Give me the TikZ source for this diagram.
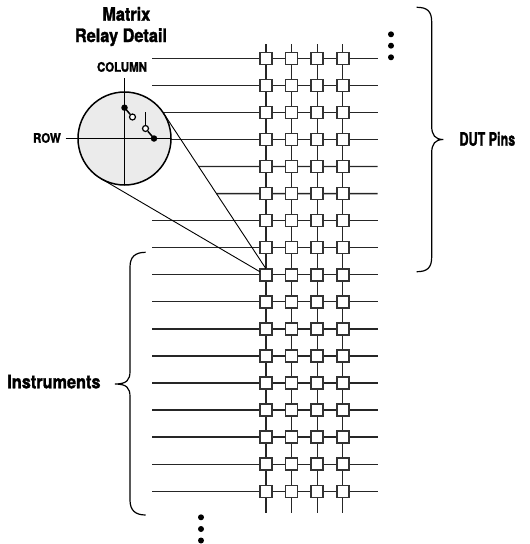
\documentclass[tikz,border=0pt]{standalone}
\usepackage{fontspec}
\setmainfont{TeX Gyre Heros}[FakeStretch=0.88,BoldFeatures={FakeBold=1.6}]
\usetikzlibrary{calc,backgrounds}
\begin{document}
\begin{tikzpicture}[x=1pt,y=-1pt,
  wire/.style={line width=1.3pt,draw=black!85},
  relay/.style={rectangle,draw=black!80,fill=white,line width=1.5pt,minimum size=12pt,inner sep=0pt,outer sep=0pt},
  cone/.style={line width=0.9pt,draw=black},
  detail/.style={line width=1.5pt,draw=black},
  biglabel/.style={font=\fontsize{18.5}{20}\selectfont\bfseries,inner sep=0pt},
  smalllabel/.style={font=\fontsize{13}{14}\selectfont\bfseries,inner sep=0pt},
  bigdot/.style={circle,fill=black,inner sep=0pt,minimum size=6pt},
  soliddot/.style={circle,fill=black,inner sep=0pt,minimum size=6.5pt},
  opendot/.style={circle,draw=black,fill=white,line width=1.2pt,inner sep=0pt,minimum size=6pt},
  bracepath/.style={line width=1.2pt,draw=black}]
\useasboundingbox (0,0) rectangle (530,544);

% magnifier circle
\node[circle,draw=black,line width=1.5pt,fill=black!8,minimum size=93pt,inner sep=0pt,outer sep=0pt] (mag) at (124.5,138.5) {};

% relay boxes
\foreach \r in {1,...,17} {
  \foreach \c/\x in {1/266,2/291.6,3/317.2,4/342.8} {
    \node[relay] (b\r-\c) at (\x,{58.3+(\r-1)*27.06}) {};
  }
}

% cone lines
\coordinate (apexU) at (b9-1.north);
\coordinate (apexL) at ([yshift=-3pt]b9-1.north west);
\coordinate (tU) at (tangent cs:node=mag,point={(apexU)},solution=1);
\coordinate (tL) at (tangent cs:node=mag,point={(apexL)},solution=2);
\draw[cone] (tU) -- (apexU);
\draw[cone] (tL) -- (apexL);

% grid wires behind
\begin{scope}[on background layer]
  \foreach \r in {1,...,17} {
    \coordinate (L\r) at (152,{58.3+(\r-1)*27.06});
    \coordinate (R\r) at (377.7,{58.3+(\r-1)*27.06});
  }
  \foreach \r in {1,2,3,4,7,8,...,17} {
    \draw[wire] (L\r) -- (R\r);
  }
  \coordinate (S5) at (intersection of tU--apexU and L5--R5);
  \coordinate (S6) at (intersection of tU--apexU and L6--R6);
  \draw[wire] (S5) -- (R5);
  \draw[wire] (S6) -- (R6);
  \foreach \c/\x in {1/266,2/291.6,3/317.2,4/342.8} {
    \coordinate (T\c) at (\x,44);
    \coordinate (B\c) at (\x,512.7);
    \draw[wire] (T\c) -- (B\c);
  }
\end{scope}

% detail inside the magnifier
\coordinate (colTop) at (124.5,78.3);
\coordinate (rowLeft) at (65.7,138.5);
\draw[detail] (colTop) -- (mag.south);
\draw[detail] (rowLeft) -- (mag.east);
\node[soliddot] (s1a) at (124.5,107.7) {};
\node[opendot] (s1b) at (132.5,117) {};
\draw[detail] (s1a.center) -- (s1b);
\coordinate (s2t) at (145.5,112);
\node[opendot] (s2b) at (145.5,128.5) {};
\node[soliddot] (s2c) at (154,138.5) {};
\draw[detail] (s2t) -- (s2b);
\draw[detail] (s2b) -- (s2c.center);

% labels
\node[biglabel,anchor=base] (t1) at (126.3,20.7) {Matrix};
\node[biglabel,anchor=base] (t2) at (121,42) {Relay Detail};
\node[smalllabel,anchor=base] (col) at (122,71.7) {COLUMN};
\node[smalllabel,anchor=base east] (row) at (61,142.7) {ROW};
\node[biglabel,anchor=base west] (dut) at (459.3,145.7) {\scalebox{0.77}[1]{DUT Pins}};
\node[biglabel,anchor=base east] (ins) at (100.7,388.3) {Instruments};

% ellipsis dots
\node[bigdot] (d1) at (391,34.3) {};
\node[bigdot] (d2) at (391,45.7) {};
\node[bigdot] (d3) at (391,57.3) {};
\node[bigdot] (e1) at (201,517.3) {};
\node[bigdot] (e2) at (201,529) {};
\node[bigdot] (e3) at (201,540.5) {};

% braces
\draw[bracepath] (416.7,7.3) .. controls (427,7.3) and (431.7,11) .. (431.7,22) -- (431.7,126) .. controls (431.7,135) and (435,139.5) .. (443.3,139.5) .. controls (435,139.5) and (431.7,144) .. (431.7,153) -- (431.7,257) .. controls (431.7,268) and (427,271.7) .. (416.7,271.7);
\draw[bracepath] (145.7,252.3) .. controls (135,252.3) and (130,257) .. (130,267) -- (130,371) .. controls (130,380) and (127,384) .. (115,384) .. controls (127,384) and (130,388) .. (130,397) -- (130,500) .. controls (130,510) and (135,515) .. (145.7,515);
\end{tikzpicture}
\end{document}
